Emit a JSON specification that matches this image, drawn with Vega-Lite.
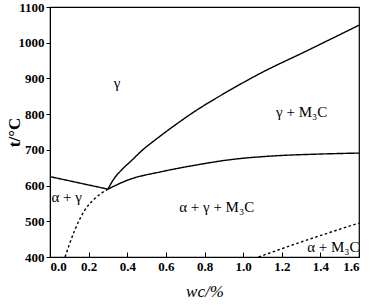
{
  "$schema": "https://vega.github.io/schema/vega-lite/v6.json",
  "width": 309,
  "height": 250,
  "autosize": "none",
  "padding": {"left": 50, "top": 7, "right": 12, "bottom": 48},
  "background": "white",
  "config": {
    "view": {"stroke": "black", "strokeWidth": 1.2},
    "font": "Liberation Serif",
    "axis": {"grid": false, "domainColor": "black", "tickColor": "black", "labelColor": "black", "titleColor": "black", "labelFont": "Liberation Serif", "titleFont": "Liberation Serif", "labelOverlap": false, "labelBound": false}
  },
  "datasets": {
    "lines": [
      {"curve": "A3", "style": "solid", "i": 0, "w": 0.0, "t": 625},
      {"curve": "A3", "style": "solid", "i": 1, "w": 0.3, "t": 590},
      {"curve": "Acm", "style": "solid", "i": 0, "w": 0.3, "t": 590},
      {"curve": "Acm", "style": "solid", "i": 1, "w": 0.33, "t": 618},
      {"curve": "Acm", "style": "solid", "i": 2, "w": 0.371, "t": 644},
      {"curve": "Acm", "style": "solid", "i": 3, "w": 0.42, "t": 669},
      {"curve": "Acm", "style": "solid", "i": 4, "w": 0.48, "t": 700},
      {"curve": "Acm", "style": "solid", "i": 5, "w": 0.55, "t": 730},
      {"curve": "Acm", "style": "solid", "i": 6, "w": 0.639, "t": 766},
      {"curve": "Acm", "style": "solid", "i": 7, "w": 0.742, "t": 805},
      {"curve": "Acm", "style": "solid", "i": 8, "w": 0.915, "t": 862},
      {"curve": "Acm", "style": "solid", "i": 9, "w": 1.088, "t": 914},
      {"curve": "Acm", "style": "solid", "i": 10, "w": 1.321, "t": 975},
      {"curve": "Acm", "style": "solid", "i": 11, "w": 1.6, "t": 1049},
      {"curve": "A1", "style": "solid", "i": 0, "w": 0.3, "t": 590},
      {"curve": "A1", "style": "solid", "i": 1, "w": 0.406, "t": 616},
      {"curve": "A1", "style": "solid", "i": 2, "w": 0.578, "t": 639},
      {"curve": "A1", "style": "solid", "i": 3, "w": 0.751, "t": 657},
      {"curve": "A1", "style": "solid", "i": 4, "w": 0.941, "t": 673},
      {"curve": "A1", "style": "solid", "i": 5, "w": 1.157, "t": 683},
      {"curve": "A1", "style": "solid", "i": 6, "w": 1.381, "t": 688},
      {"curve": "A1", "style": "solid", "i": 7, "w": 1.6, "t": 691},
      {"curve": "AG", "style": "dashed", "i": 0, "w": 0.078, "t": 400},
      {"curve": "AG", "style": "dashed", "i": 1, "w": 0.129, "t": 476},
      {"curve": "AG", "style": "dashed", "i": 2, "w": 0.181, "t": 532},
      {"curve": "AG", "style": "dashed", "i": 3, "w": 0.233, "t": 564},
      {"curve": "AG", "style": "dashed", "i": 4, "w": 0.27, "t": 580},
      {"curve": "AG", "style": "dashed", "i": 5, "w": 0.3, "t": 590},
      {"curve": "AM", "style": "dashed", "i": 0, "w": 1.08, "t": 400},
      {"curve": "AM", "style": "dashed", "i": 1, "w": 1.3, "t": 442},
      {"curve": "AM", "style": "dashed", "i": 2, "w": 1.6, "t": 495}
    ],
    "labels": [
      {"text": "γ", "w": 0.347, "t": 887},
      {"text": "γ + M₃C", "w": 1.303, "t": 807},
      {"text": "α + γ", "w": 0.086, "t": 569},
      {"text": "α + γ + M₃C", "w": 0.863, "t": 541},
      {"text": "α + M₃C", "w": 1.467, "t": 429}
    ]
  },
  "encoding": {
    "x": {"field": "w", "type": "quantitative", "scale": {"domain": [0, 1.6], "nice": false},
      "axis": {"values": [0, 0.2, 0.4, 0.6, 0.8, 1.0, 1.2, 1.4, 1.6], "format": ".1f", "tickSize": -5, "labelPadding": 8, "labelFontSize": 13, "labelFontWeight": "bold", "title": "wc/%", "titleFontSize": 17, "titleFontStyle": "italic", "titleFontWeight": "normal", "titlePadding": 10}},
    "y": {"field": "t", "type": "quantitative", "scale": {"domain": [400, 1100], "nice": false},
      "axis": {"values": [400, 500, 600, 700, 800, 900, 1000, 1100], "format": "d", "tickSize": 4, "labelPadding": 2, "labelFontSize": 13, "labelFontWeight": "bold", "title": "t/°C", "titleFontSize": 17, "titleFontWeight": "bold", "titleX": -36, "titleY": 125, "titleAlign": "center", "titleBaseline": "middle"}}
  },
  "layer": [
    {
      "data": {"name": "lines"},
      "mark": {"type": "line", "color": "black", "strokeWidth": 1.4, "clip": true, "interpolate": "monotone"},
      "encoding": {
        "detail": {"field": "curve"},
        "order": {"field": "i"},
        "strokeDash": {"field": "style", "type": "nominal", "scale": {"domain": ["solid", "dashed"], "range": [[1, 0], [2.5, 2.5]]}, "legend": null}
      }
    },
    {
      "data": {"name": "labels"},
      "mark": {"type": "text", "fontSize": 15, "font": "Liberation Serif", "color": "black"},
      "encoding": {
        "text": {"field": "text"}
      }
    }
  ]
}
